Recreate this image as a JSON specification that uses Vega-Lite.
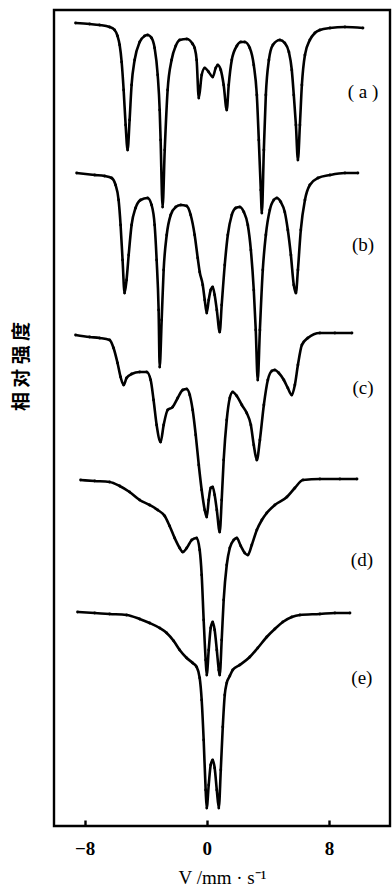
{
 "$schema": "https://vega.github.io/schema/vega-lite/v6.json",
 "width": 336, "height": 816,
 "autosize": {"type": "none"},
 "padding": {"left": 54, "top": 10, "right": 2, "bottom": 65},
 "background": "white",
 "config": {"view": {"stroke": "black", "strokeWidth": 2.4}, "font": "Liberation Serif"},
 "datasets": {
  "spectra": [
   {"curve":"a","v":-8.59,"s":803},{"curve":"a","v":-7.67,"s":802},{"curve":"a","v":-7.02,"s":801},{"curve":"a","v":-6.36,"s":799},{"curve":"a","v":-6.03,"s":796},{"curve":"a","v":-5.84,"s":790},{"curve":"a","v":-5.70,"s":781},{"curve":"a","v":-5.57,"s":764},{"curve":"a","v":-5.44,"s":736},{"curve":"a","v":-5.31,"s":701},{"curve":"a","v":-5.18,"s":676},{"curve":"a","v":-5.05,"s":706},{"curve":"a","v":-4.92,"s":741},{"curve":"a","v":-4.72,"s":766},{"curve":"a","v":-4.39,"s":784},{"curve":"a","v":-4.07,"s":790},{"curve":"a","v":-3.87,"s":791},{"curve":"a","v":-3.61,"s":788},{"curve":"a","v":-3.41,"s":778},{"curve":"a","v":-3.21,"s":751},{"curve":"a","v":-3.08,"s":716},{"curve":"a","v":-3.02,"s":686},{"curve":"a","v":-2.89,"s":619},{"curve":"a","v":-2.75,"s":676},{"curve":"a","v":-2.56,"s":736},{"curve":"a","v":-2.30,"s":766},{"curve":"a","v":-2.03,"s":780},{"curve":"a","v":-1.77,"s":786},{"curve":"a","v":-1.31,"s":787},{"curve":"a","v":-0.92,"s":782},{"curve":"a","v":-0.79,"s":778},{"curve":"a","v":-0.66,"s":766},{"curve":"a","v":-0.52,"s":728},{"curve":"a","v":-0.33,"s":751},{"curve":"a","v":-0.13,"s":758},{"curve":"a","v":0.13,"s":754},{"curve":"a","v":0.39,"s":749},{"curve":"a","v":0.59,"s":758},{"curve":"a","v":0.72,"s":761},{"curve":"a","v":0.92,"s":756},{"curve":"a","v":1.11,"s":741},{"curve":"a","v":1.31,"s":716},{"curve":"a","v":1.44,"s":741},{"curve":"a","v":1.64,"s":766},{"curve":"a","v":1.97,"s":780},{"curve":"a","v":2.23,"s":784},{"curve":"a","v":2.49,"s":784},{"curve":"a","v":2.82,"s":778},{"curve":"a","v":3.08,"s":761},{"curve":"a","v":3.28,"s":731},{"curve":"a","v":3.41,"s":686},{"curve":"a","v":3.54,"s":636},{"curve":"a","v":3.61,"s":613},{"curve":"a","v":3.74,"s":676},{"curve":"a","v":3.87,"s":731},{"curve":"a","v":4.07,"s":766},{"curve":"a","v":4.33,"s":781},{"curve":"a","v":4.79,"s":786},{"curve":"a","v":5.11,"s":783},{"curve":"a","v":5.38,"s":774},{"curve":"a","v":5.57,"s":756},{"curve":"a","v":5.70,"s":731},{"curve":"a","v":5.84,"s":701},{"curve":"a","v":5.97,"s":666},{"curve":"a","v":6.10,"s":701},{"curve":"a","v":6.23,"s":741},{"curve":"a","v":6.43,"s":771},{"curve":"a","v":6.75,"s":786},{"curve":"a","v":7.08,"s":793},{"curve":"a","v":7.41,"s":796},{"curve":"a","v":8.07,"s":798},{"curve":"a","v":9.05,"s":799},{"curve":"a","v":10.23,"s":798},
   {"curve":"b","v":-8.52,"s":653},{"curve":"b","v":-7.34,"s":651},{"curve":"b","v":-6.69,"s":650},{"curve":"b","v":-6.23,"s":648},{"curve":"b","v":-5.97,"s":641},{"curve":"b","v":-5.77,"s":626},{"curve":"b","v":-5.64,"s":601},{"curve":"b","v":-5.51,"s":566},{"curve":"b","v":-5.38,"s":533},{"curve":"b","v":-5.25,"s":546},{"curve":"b","v":-5.11,"s":571},{"curve":"b","v":-4.92,"s":601},{"curve":"b","v":-4.66,"s":618},{"curve":"b","v":-4.33,"s":626},{"curve":"b","v":-3.87,"s":628},{"curve":"b","v":-3.61,"s":621},{"curve":"b","v":-3.41,"s":601},{"curve":"b","v":-3.28,"s":566},{"curve":"b","v":-3.15,"s":516},{"curve":"b","v":-3.08,"s":459},{"curve":"b","v":-2.95,"s":506},{"curve":"b","v":-2.82,"s":556},{"curve":"b","v":-2.62,"s":591},{"curve":"b","v":-2.36,"s":611},{"curve":"b","v":-2.03,"s":619},{"curve":"b","v":-1.70,"s":621},{"curve":"b","v":-1.31,"s":620},{"curve":"b","v":-1.05,"s":611},{"curve":"b","v":-0.79,"s":591},{"curve":"b","v":-0.59,"s":568},{"curve":"b","v":-0.46,"s":554},{"curve":"b","v":-0.26,"s":541},{"curve":"b","v":-0.13,"s":526},{"curve":"b","v":0.00,"s":513},{"curve":"b","v":0.13,"s":526},{"curve":"b","v":0.26,"s":536},{"curve":"b","v":0.39,"s":539},{"curve":"b","v":0.52,"s":531},{"curve":"b","v":0.66,"s":516},{"curve":"b","v":0.85,"s":494},{"curve":"b","v":0.98,"s":521},{"curve":"b","v":1.18,"s":561},{"curve":"b","v":1.38,"s":591},{"curve":"b","v":1.64,"s":611},{"curve":"b","v":1.90,"s":618},{"curve":"b","v":2.16,"s":619},{"curve":"b","v":2.43,"s":614},{"curve":"b","v":2.69,"s":601},{"curve":"b","v":2.89,"s":576},{"curve":"b","v":3.08,"s":536},{"curve":"b","v":3.21,"s":496},{"curve":"b","v":3.34,"s":446},{"curve":"b","v":3.48,"s":496},{"curve":"b","v":3.67,"s":556},{"curve":"b","v":3.87,"s":591},{"curve":"b","v":4.13,"s":616},{"curve":"b","v":4.39,"s":626},{"curve":"b","v":4.59,"s":628},{"curve":"b","v":4.85,"s":624},{"curve":"b","v":5.11,"s":614},{"curve":"b","v":5.31,"s":596},{"curve":"b","v":5.51,"s":571},{"curve":"b","v":5.70,"s":541},{"curve":"b","v":5.84,"s":533},{"curve":"b","v":5.97,"s":556},{"curve":"b","v":6.16,"s":596},{"curve":"b","v":6.43,"s":626},{"curve":"b","v":6.75,"s":641},{"curve":"b","v":7.28,"s":648},{"curve":"b","v":8.07,"s":651},{"curve":"b","v":9.05,"s":653},{"curve":"b","v":9.90,"s":653},
   {"curve":"c","v":-8.59,"s":491},{"curve":"c","v":-7.67,"s":489},{"curve":"c","v":-7.02,"s":488},{"curve":"c","v":-6.36,"s":486},{"curve":"c","v":-6.10,"s":478},{"curve":"c","v":-5.84,"s":463},{"curve":"c","v":-5.64,"s":449},{"curve":"c","v":-5.44,"s":441},{"curve":"c","v":-5.25,"s":448},{"curve":"c","v":-4.92,"s":452},{"curve":"c","v":-4.39,"s":454},{"curve":"c","v":-3.93,"s":454},{"curve":"c","v":-3.67,"s":446},{"curve":"c","v":-3.48,"s":426},{"curve":"c","v":-3.28,"s":401},{"curve":"c","v":-3.02,"s":384},{"curve":"c","v":-2.82,"s":401},{"curve":"c","v":-2.56,"s":416},{"curve":"c","v":-2.23,"s":419},{"curve":"c","v":-1.90,"s":428},{"curve":"c","v":-1.57,"s":436},{"curve":"c","v":-1.31,"s":437},{"curve":"c","v":-1.11,"s":431},{"curve":"c","v":-0.92,"s":416},{"curve":"c","v":-0.72,"s":391},{"curve":"c","v":-0.52,"s":361},{"curve":"c","v":-0.33,"s":336},{"curve":"c","v":-0.13,"s":316},{"curve":"c","v":0.00,"s":309},{"curve":"c","v":0.13,"s":326},{"curve":"c","v":0.26,"s":338},{"curve":"c","v":0.39,"s":339},{"curve":"c","v":0.52,"s":331},{"curve":"c","v":0.66,"s":316},{"curve":"c","v":0.85,"s":294},{"curve":"c","v":0.98,"s":326},{"curve":"c","v":1.11,"s":366},{"curve":"c","v":1.31,"s":406},{"curve":"c","v":1.51,"s":428},{"curve":"c","v":1.70,"s":434},{"curve":"c","v":1.97,"s":430},{"curve":"c","v":2.30,"s":421},{"curve":"c","v":2.62,"s":413},{"curve":"c","v":2.89,"s":401},{"curve":"c","v":3.08,"s":381},{"curve":"c","v":3.28,"s":366},{"curve":"c","v":3.48,"s":386},{"curve":"c","v":3.74,"s":421},{"curve":"c","v":4.00,"s":446},{"curve":"c","v":4.26,"s":455},{"curve":"c","v":4.46,"s":456},{"curve":"c","v":4.72,"s":453},{"curve":"c","v":5.05,"s":446},{"curve":"c","v":5.31,"s":438},{"curve":"c","v":5.57,"s":431},{"curve":"c","v":5.77,"s":441},{"curve":"c","v":5.97,"s":461},{"curve":"c","v":6.23,"s":481},{"curve":"c","v":6.62,"s":488},{"curve":"c","v":7.41,"s":493},{"curve":"c","v":8.39,"s":493},{"curve":"c","v":9.51,"s":493},
   {"curve":"d","v":-8.26,"s":346},{"curve":"d","v":-7.34,"s":345},{"curve":"d","v":-6.36,"s":344},{"curve":"d","v":-5.70,"s":340},{"curve":"d","v":-5.05,"s":334},{"curve":"d","v":-4.39,"s":326},{"curve":"d","v":-3.74,"s":321},{"curve":"d","v":-3.21,"s":316},{"curve":"d","v":-2.75,"s":310},{"curve":"d","v":-2.43,"s":300},{"curve":"d","v":-2.10,"s":288},{"curve":"d","v":-1.77,"s":278},{"curve":"d","v":-1.57,"s":274},{"curve":"d","v":-1.31,"s":278},{"curve":"d","v":-0.98,"s":286},{"curve":"d","v":-0.66,"s":288},{"curve":"d","v":-0.46,"s":276},{"curve":"d","v":-0.33,"s":251},{"curve":"d","v":-0.20,"s":206},{"curve":"d","v":-0.07,"s":166},{"curve":"d","v":0.00,"s":151},{"curve":"d","v":0.13,"s":176},{"curve":"d","v":0.26,"s":198},{"curve":"d","v":0.39,"s":204},{"curve":"d","v":0.52,"s":196},{"curve":"d","v":0.66,"s":176},{"curve":"d","v":0.79,"s":156},{"curve":"d","v":0.85,"s":151},{"curve":"d","v":0.98,"s":186},{"curve":"d","v":1.11,"s":226},{"curve":"d","v":1.31,"s":261},{"curve":"d","v":1.51,"s":278},{"curve":"d","v":1.77,"s":286},{"curve":"d","v":1.97,"s":288},{"curve":"d","v":2.23,"s":280},{"curve":"d","v":2.49,"s":273},{"curve":"d","v":2.69,"s":271},{"curve":"d","v":2.95,"s":281},{"curve":"d","v":3.28,"s":296},{"curve":"d","v":3.61,"s":306},{"curve":"d","v":3.93,"s":313},{"curve":"d","v":4.46,"s":321},{"curve":"d","v":5.25,"s":329},{"curve":"d","v":5.77,"s":338},{"curve":"d","v":6.30,"s":346},{"curve":"d","v":7.41,"s":347},{"curve":"d","v":8.72,"s":347},{"curve":"d","v":9.84,"s":347},
   {"curve":"e","v":-8.46,"s":214},{"curve":"e","v":-7.34,"s":213},{"curve":"e","v":-6.36,"s":212},{"curve":"e","v":-5.25,"s":211},{"curve":"e","v":-4.39,"s":207},{"curve":"e","v":-3.74,"s":203},{"curve":"e","v":-3.08,"s":198},{"curve":"e","v":-2.62,"s":193},{"curve":"e","v":-2.16,"s":185},{"curve":"e","v":-1.77,"s":176},{"curve":"e","v":-1.31,"s":168},{"curve":"e","v":-0.92,"s":163},{"curve":"e","v":-0.66,"s":159},{"curve":"e","v":-0.46,"s":148},{"curve":"e","v":-0.33,"s":126},{"curve":"e","v":-0.20,"s":86},{"curve":"e","v":-0.07,"s":36},{"curve":"e","v":0.00,"s":18},{"curve":"e","v":0.13,"s":41},{"curve":"e","v":0.26,"s":61},{"curve":"e","v":0.39,"s":66},{"curve":"e","v":0.52,"s":58},{"curve":"e","v":0.66,"s":36},{"curve":"e","v":0.79,"s":18},{"curve":"e","v":0.92,"s":56},{"curve":"e","v":1.05,"s":99},{"curve":"e","v":1.18,"s":131},{"curve":"e","v":1.31,"s":143},{"curve":"e","v":1.51,"s":150},{"curve":"e","v":1.70,"s":156},{"curve":"e","v":2.16,"s":161},{"curve":"e","v":2.82,"s":169},{"curve":"e","v":3.34,"s":178},{"curve":"e","v":3.93,"s":189},{"curve":"e","v":4.46,"s":197},{"curve":"e","v":4.98,"s":204},{"curve":"e","v":5.57,"s":209},{"curve":"e","v":6.10,"s":211},{"curve":"e","v":7.41,"s":212},{"curve":"e","v":8.39,"s":213},{"curve":"e","v":9.38,"s":213}
  ],
  "labels": [
   {"label":"( a )","v":10.23,"s":734},
   {"label":"(b)","v":10.23,"s":581},
   {"label":"(c)","v":10.23,"s":438},
   {"label":"(d)","v":10.16,"s":266},
   {"label":"(e)","v":10.16,"s":148}
  ]
 },
 "layer": [
  {
   "data": {"name": "spectra"},
   "mark": {"type": "line", "color": "black", "strokeWidth": 2.6, "interpolate": "monotone", "point": {"filled": true, "size": 8, "color": "black"}},
   "encoding": {
    "x": {"field": "v", "type": "quantitative", "scale": {"domain": [-10, 12], "nice": false, "zero": false},
     "axis": {"values": [-8, 0, 8], "tickSize": -6, "tickWidth": 2.4, "tickColor": "black", "domain": false, "grid": false,
      "labelFontSize": 19, "labelFont": "Liberation Serif", "labelFontWeight": "bold", "labelColor": "black", "labelPadding": 19,
      "title": "V /mm · s⁻¹", "titleFont": "Liberation Serif", "titleFontSize": 19, "titleFontWeight": "normal", "titleColor": "black", "titlePadding": 10}},
    "y": {"field": "s", "type": "quantitative", "scale": {"domain": [0, 816], "nice": false},
     "axis": {"ticks": false, "labels": false, "domain": false, "grid": false,
      "title": "相 对 强 度", "titleFont": "Noto Sans CJK SC", "titleFontSize": 19, "titleFontWeight": "bold", "titleColor": "black",
      "titleX": -33, "titleY": 356, "titleAngle": -90, "titleAlign": "center", "titleBaseline": "middle"}},
    "detail": {"field": "curve"}
   }
  },
  {
   "data": {"name": "labels"},
   "mark": {"type": "text", "font": "Liberation Serif", "fontSize": 19, "fontWeight": "normal", "color": "black"},
   "encoding": {
    "x": {"field": "v", "type": "quantitative"},
    "y": {"field": "s", "type": "quantitative"},
    "text": {"field": "label"}
   }
  }
 ]
}
